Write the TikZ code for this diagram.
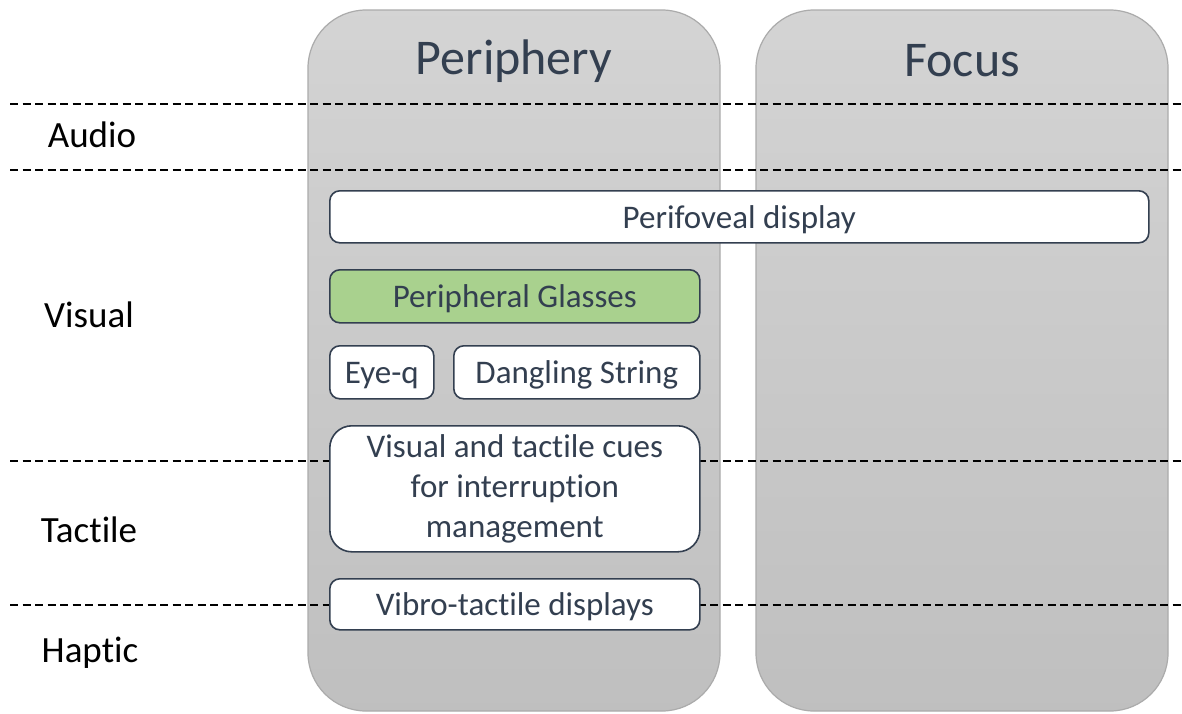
\documentclass[tikz,border=0pt]{standalone}
\usepackage{fontspec}
\setmainfont{Carlito}[Ligatures={NoCommon}]
% keep "t" and "i" as separate glyphs
\newcommand\tnoi{t\kern0pt i}
\begin{document}
\begin{tikzpicture}[x=1pt,y=-1pt,
  column/.style={draw=black!33,line width=1.2pt,rounded corners=58pt,
    top color=black!17,bottom color=black!25},
  band/.style={dashed,line width=1.4pt,dash pattern=on 8pt off 4.5pt,black},
  box/.style={draw=textblue,line width=1.6pt,fill=white,rounded corners=10pt,
    text=textblue,font=\fontsize{33}{40}\selectfont,inner sep=0pt,anchor=north west,
    text height=29pt,text depth=6pt},
  title/.style={text=textblue,font=\fontsize{50}{60}\selectfont},
  mode/.style={text=black,font=\fontsize{37}{44}\selectfont}]
\definecolor{textblue}{HTML}{333F50}
\definecolor{glassgreen}{HTML}{A9D18E}
\useasboundingbox (0,0) rectangle (1182,713);
\fill[white] (0,0) rectangle (1182,713);

% two columns
\draw[column] (308,10) rectangle (720,711);
\draw[column] (756,10) rectangle (1168,711);
\node[title] (periphery) at (514,61) {Periphery};
\node[title] (focus) at (962,61) {Focus};

% band separators
\coordinate (l1) at (10,104);  \coordinate (r1) at (1182,104);
\coordinate (l2) at (10,170);  \coordinate (r2) at (1182,170);
\coordinate (l3) at (10,461);  \coordinate (r3) at (1182,461);
\coordinate (l4) at (10,605);  \coordinate (r4) at (1182,605);
\draw[band] (l1) -- (r1);
\draw[band] (l2) -- (r2);
\draw[band] (l3) -- (r3);
\draw[band] (l4) -- (r4);

% modality labels
\node[mode] (audio) at (92,135) {Audio};
\node[mode] (visual) at (89,315) {Visual};
\node[mode] (tactile) at (89,530) {Tac\tnoi le};
\node[mode] (haptic) at (90,653) {Haptic};

% displays
\node[box,minimum width=819pt,minimum height=52pt] (perifoveal) at (329,190) {Perifoveal display};
\node[box,fill=glassgreen,minimum width=370pt,minimum height=53pt] (glasses) at (329,269) {Peripheral Glasses};
\node[box,minimum width=104pt,minimum height=53pt] (eyeq) at (329,345) {Eye-q};
\node[box,minimum width=246pt,minimum height=53pt] (dangling) at (453,345) {Dangling String};
\node[box,rounded corners=22pt,minimum width=370pt,minimum height=126pt,align=center,
      text height=,text depth=] (cues) at (329,425)
  {Visual and tac\tnoi le cues\\for interruption\\management};
\node[box,minimum width=370pt,minimum height=51pt] (vibro) at (329,578) {Vibro-tac\tnoi le displays};
\end{tikzpicture}
\end{document}
